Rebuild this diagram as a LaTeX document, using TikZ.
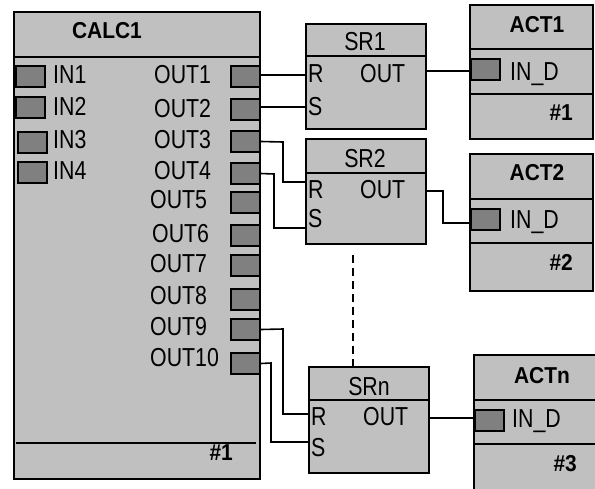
\documentclass[tikz,border=0pt]{standalone}
\usepackage{fontspec}
\setmainfont{Liberation Sans}
\newfontfamily\narrowfont[FakeStretch=0.82]{Liberation Sans}
\newfontfamily\titlefont[FakeStretch=0.91]{Liberation Sans}
\definecolor{lg}{HTML}{C0C0C0}
\definecolor{dg}{HTML}{808080}
\tikzset{
 blk/.style={draw, fill=lg, line width=2pt, rectangle, inner sep=0pt, anchor=north west},
 prt/.style={draw, fill=dg, line width=2pt, rectangle, inner sep=0pt, minimum width=29pt, minimum height=21pt, anchor=north west},
 wire/.style={line width=1.6pt},
 sepl/.style={line width=2pt},
 lbl/.style={font=\narrowfont\fontsize{26}{28}\selectfont, inner sep=0pt},
 ttl/.style={font=\titlefont\bfseries\fontsize{23}{26}\selectfont, inner sep=0pt},
}
\begin{document}
\begin{tikzpicture}[x=1pt,y=-1pt]
\useasboundingbox (0,0) rectangle (595,488);
\clip (0,0) rectangle (595,488);
% ---------- CALC1 ----------
\node[blk, minimum width=246pt, minimum height=467pt] (calc) at (13,11) {};
\draw[sepl] (13,57) -- (259,57);
\draw[sepl] (16,443) -- (256,443);
\node[ttl, anchor=base] (calct) at (107,38.5) {CALC1};
\node[ttl, anchor=base east] (calcn) at (233,460) {\#1};
% inputs
\node[prt] (in1) at (15,65) {};
\node[prt] (in2) at (15,96) {};
\node[prt] (in3) at (17,131) {};
\node[prt] (in4) at (17,161) {};
\node[lbl, anchor=base west] (in1l) at (53,83.5) {IN1};
\node[lbl, anchor=base west] (in2l) at (53,115.5) {IN2};
\node[lbl, anchor=base west] (in3l) at (53,148) {IN3};
\node[lbl, anchor=base west] (in4l) at (53,179) {IN4};
% outputs
\node[prt] (o1) at (230,65) {};
\node[prt] (o2) at (230,98) {};
\node[prt] (o3) at (230,130) {};
\node[prt] (o4) at (230,162) {};
\node[prt] (o5) at (230,191) {};
\node[prt] (o6) at (230,224) {};
\node[prt] (o7) at (230,254) {};
\node[prt] (o8) at (230,288) {};
\node[prt] (o9) at (230,318) {};
\node[prt] (o10) at (230,352) {};
\node[lbl, anchor=base west] (o1l) at (154,83) {OUT1};
\node[lbl, anchor=base west] (o2l) at (154,117) {OUT2};
\node[lbl, anchor=base west] (o3l) at (154,148) {OUT3};
\node[lbl, anchor=base west] (o4l) at (154,179) {OUT4};
\node[lbl, anchor=base west] (o5l) at (150,208) {OUT5};
\node[lbl, anchor=base west] (o6l) at (152,242) {OUT6};
\node[lbl, anchor=base west] (o7l) at (150,272) {OUT7};
\node[lbl, anchor=base west] (o8l) at (150,304) {OUT8};
\node[lbl, anchor=base west] (o9l) at (150,335) {OUT9};
\node[lbl, anchor=base west] (o10l) at (150,366) {OUT10};
% ---------- SR1 ----------
\node[blk, minimum width=120pt, minimum height=105pt] (sr1) at (305,23) {};
\draw[sepl] (305,56) -- (425,56);
\node[lbl, anchor=base] (sr1t) at (365,50) {SR1};
\node[lbl, anchor=base west] (sr1r) at (308,82) {R};
\node[lbl, anchor=base west] (sr1s) at (308,115) {S};
\node[lbl, anchor=base west] (sr1o) at (360,82) {OUT};
\coordinate (sr1R) at (305,75);
\coordinate (sr1S) at (305,107);
\coordinate (sr1Q) at (425,71);
% ---------- SR2 ----------
\node[blk, minimum width=120pt, minimum height=105pt] (sr2) at (305,138) {};
\draw[sepl] (305,173) -- (425,173);
\node[lbl, anchor=base] (sr2t) at (365,167) {SR2};
\node[lbl, anchor=base west] (sr2r) at (308,198) {R};
\node[lbl, anchor=base west] (sr2s) at (308,227) {S};
\node[lbl, anchor=base west] (sr2o) at (360,198) {OUT};
\coordinate (sr2R) at (305,182);
\coordinate (sr2S) at (305,228);
\coordinate (sr2Q) at (425,191);
% ---------- SRn ----------
\node[blk, minimum width=120pt, minimum height=106pt] (srn) at (308,366) {};
\draw[sepl] (308,400) -- (428,400);
\node[lbl, anchor=base] (srnt) at (369,395) {SRn};
\node[lbl, anchor=base west] (srnr) at (311,425) {R};
\node[lbl, anchor=base west] (srns) at (311,456) {S};
\node[lbl, anchor=base west] (srno) at (363,425) {OUT};
\coordinate (srnR) at (308,414);
\coordinate (srnS) at (308,442);
\coordinate (srnQ) at (428,418);
% dashed continuation
\coordinate (dtop) at (353,255);
\draw[wire, dash pattern=on 8pt off 5pt] (dtop) -- (srn.north -| dtop);
% ---------- ACT1 ----------
\node[blk, minimum width=123pt, minimum height=134pt] (act1) at (469,4) {};
\draw[sepl] (469,49) -- (592,49);
\draw[sepl] (469,94) -- (592,94);
\node[prt] (a1p) at (470,58) {};
\node[ttl, anchor=base] (a1t) at (537,32) {ACT1};
\node[lbl, anchor=base west] (a1i) at (510,80) {IN\_D};
\node[ttl, anchor=base east] (a1n) at (573,120) {\#1};
% ---------- ACT2 ----------
\node[blk, minimum width=123pt, minimum height=137pt] (act2) at (469,153) {};
\draw[sepl] (469,199) -- (592,199);
\draw[sepl] (469,243) -- (592,243);
\node[prt] (a2p) at (470,208) {};
\node[ttl, anchor=base] (a2t) at (537,180) {ACT2};
\node[lbl, anchor=base west] (a2i) at (510,228) {IN\_D};
\node[ttl, anchor=base east] (a2n) at (573,270) {\#2};
% ---------- ACTn ----------
\node[blk, minimum width=130pt, minimum height=150pt] (actn) at (473,354) {};
\draw[sepl] (473,400) -- (603,400);
\draw[sepl] (473,444) -- (603,444);
\node[prt] (anp) at (474,409) {};
\node[ttl, anchor=base] (ant) at (542,383) {ACTn};
\node[lbl, anchor=base west] (ani) at (512,427) {IN\_D};
\node[ttl, anchor=base east] (ann) at (577,471) {\#3};
% ---------- wires ----------
\draw[wire] (o1.east |- sr1R) -- (sr1R);
\draw[wire] (o2.east |- sr1S) -- (sr1S);
\draw[wire] (o3.east) -- (283,142) -- (283,182) -- (sr2R);
\draw[wire] (o4.east) -- (274,174) -- (274,228) -- (sr2S);
\draw[wire] (o9.east) -- (283,329) -- (283,414) -- (srnR);
\draw[wire] (o10.east) -- (271,363) -- (271,442) -- (srnS);
\draw[wire] (sr1Q) -- (a1p.west |- sr1Q);
\draw[wire] (sr2Q) -- (443,191) -- (443,223) -- (a2p.west |- 0,223);
\draw[wire] (srnQ) -- (anp.west |- srnQ);
\end{tikzpicture}
\end{document}
